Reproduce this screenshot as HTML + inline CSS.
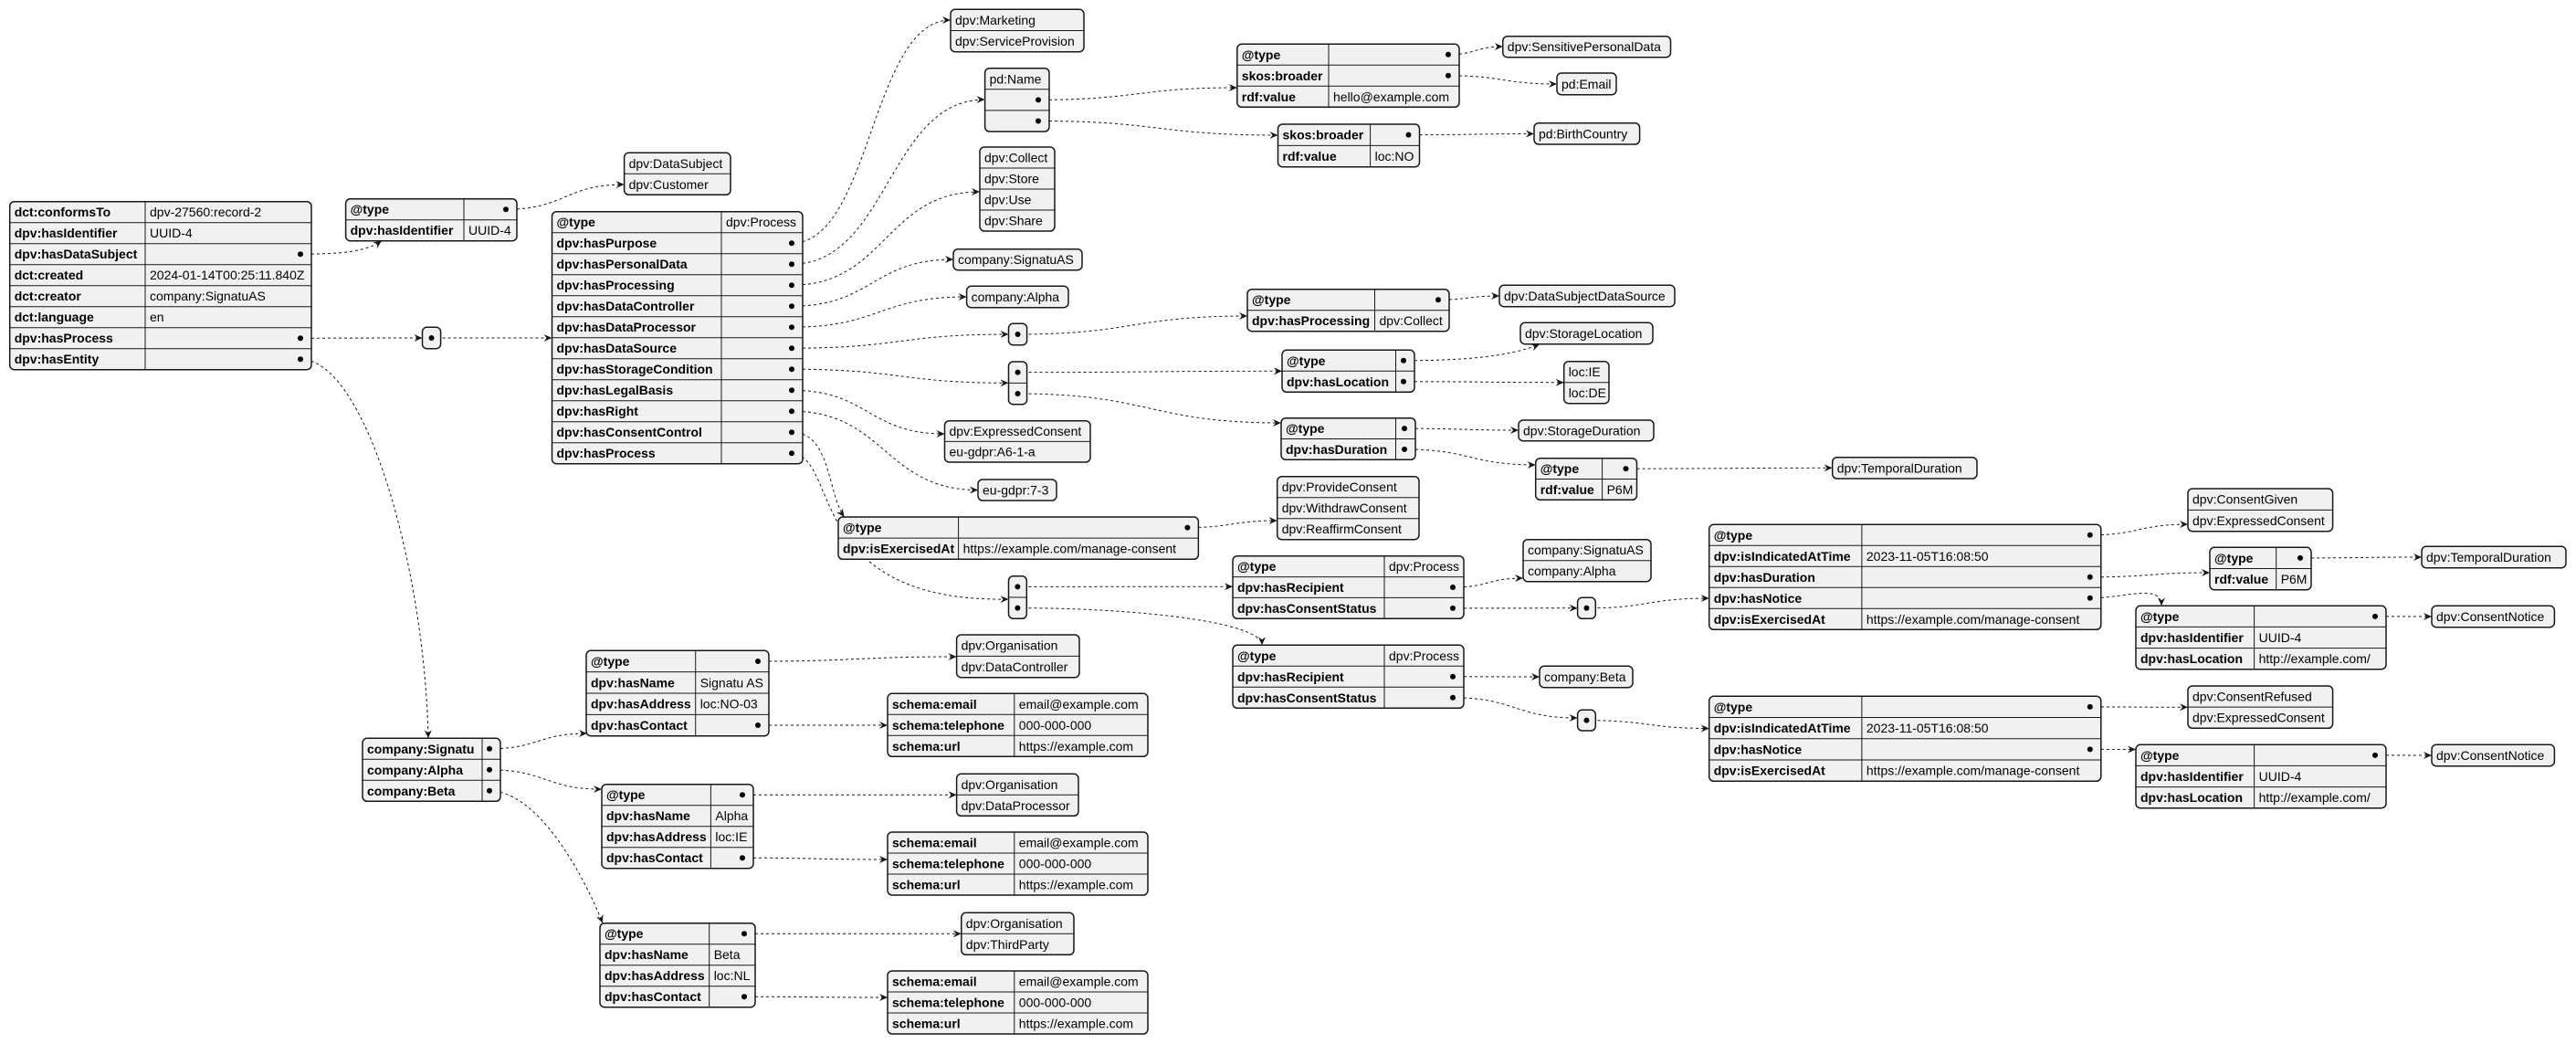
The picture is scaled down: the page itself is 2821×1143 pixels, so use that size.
<!DOCTYPE html>
<html><head><meta charset="utf-8">
<style>
html,body{margin:0;padding:0;background:#fff;}
svg{display:block;}
text{font-family:"Liberation Sans",sans-serif;font-size:14px;fill:#000;}
.k{font-weight:bold;}
</style></head>
<body>
<svg id="s" xmlns="http://www.w3.org/2000/svg" width="2821" height="1143" viewBox="0 0 2821 1143">
<defs>
<marker id="ar" markerUnits="userSpaceOnUse" markerWidth="10" markerHeight="9" refX="9" refY="4" orient="auto">
<path d="M0,0 L9,4 L0,8 L3,4 Z" fill="#181818"/>
</marker>
</defs>
<g id="lines"></g>
<g id="boxes"></g>
</svg>
<script>
const D='*';
const T={
T0:[10.7,341,220.7,404.7,159,[['dct:conformsTo','dpv-27560:record-2'],['dpv:hasIdentifier','UUID-4'],['dpv:hasDataSubject',D],['dct:created','2024-01-14T00:25:11.840Z'],['dct:creator','company:SignatuAS'],['dct:language','en'],['dpv:hasProcess',D],['dpv:hasEntity',D]]],
T1:[378.6,566,217.7,263.7,508,[['@type',D],['dpv:hasIdentifier','UUID-4']]],
LDS:[683.6,800,167.3,213.3,0,['dpv:DataSubject','dpv:Customer']],
A1:[462.5,482.6,358.3,381.7,0,[D]],
T2:[604.5,879,231.7,507.7,790,[['@type','dpv:Process'],['dpv:hasPurpose',D],['dpv:hasPersonalData',D],['dpv:hasProcessing',D],['dpv:hasDataController',D],['dpv:hasDataProcessor',D],['dpv:hasDataSource',D],['dpv:hasStorageCondition',D],['dpv:hasLegalBasis',D],['dpv:hasRight',D],['dpv:hasConsentControl',D],['dpv:hasProcess',D]]],
MK:[1041,1187,10.3,56.7,0,['dpv:Marketing','dpv:ServiceProvision']],
PN:[1078.6,1149,74.7,144,0,['pd:Name',D,D]],
EM:[1354.8,1598,48.3,117.3,1455,[['@type',D],['skos:broader',D],['rdf:value','hello@example.com']]],
SPD:[1645.8,1829.5,39.7,62.7,0,['dpv:SensitivePersonalData']],
PE:[1705,1770,80,103.7,0,['pd:Email']],
BC:[1399.5,1554.5,136,182.7,1500.6,[['skos:broader',D],['rdf:value','loc:NO']]],
PBC:[1680,1795.6,134.7,158,0,['pd:BirthCountry']],
COL:[1073,1155,161,253,0,['dpv:Collect','dpv:Store','dpv:Use','dpv:Share']],
SAS:[1044,1185,272.7,295.7,0,['company:SignatuAS']],
ALP:[1058.6,1170,313.3,336.7,0,['company:Alpha']],
A2:[1104.5,1124.6,354.3,377.7,0,[D]],
A3:[1104.5,1124.6,396,442.7,0,[D,D]],
EC:[1034.5,1194,460.7,506,0,['dpv:ExpressedConsent','eu-gdpr:A6-1-a']],
EU:[1071,1157,525,548,0,['eu-gdpr:7-3']],
DS:[1366,1587,316.7,362.7,1505.5,[['@type',D],['dpv:hasProcessing','dpv:Collect']]],
DSDS:[1642,1834,312.3,335.7,0,['dpv:DataSubjectDataSource']],
LOC:[1404,1549,383.3,429.3,1528.5,[['@type',D],['dpv:hasLocation',D]]],
SL:[1665,1810,353.3,376.7,0,['dpv:StorageLocation']],
LIE:[1712.7,1762,395.7,441.7,0,['loc:IE','loc:DE']],
DUR:[1403,1550,457.7,503.3,1528.5,[['@type',D],['dpv:hasDuration',D]]],
SD:[1663,1811,460,482.7,0,['dpv:StorageDuration']],
P6:[1681.7,1792.5,501.7,547.3,1754.6,[['@type',D],['rdf:value','P6M']]],
TD:[2006.7,2165,500.7,524,0,['dpv:TemporalDuration']],
PC:[1398.7,1554,521.7,590.7,0,['dpv:ProvideConsent','dpv:WithdrawConsent','dpv:ReaffirmConsent']],
MC:[918,1312.4,566,612.3,1049.6,[['@type',D],['dpv:isExercisedAt','https://example.com/manage-consent']]],
A4:[1104.5,1124.3,630.7,677.3,0,[D,D]],
P1:[1350,1603,608.7,677.3,1516,[['@type','dpv:Process'],['dpv:hasRecipient',D],['dpv:hasConsentStatus',D]]],
SA2:[1668,1808,590.7,636.7,0,['company:SignatuAS','company:Alpha']],
A5:[1727.6,1747.3,654.3,677.3,0,[D]],
P2:[1350,1603,706.3,775.3,1516,[['@type','dpv:Process'],['dpv:hasRecipient',D],['dpv:hasConsentStatus',D]]],
BETA:[1686,1788,729.3,752.7,0,['company:Beta']],
A6:[1727.6,1747.3,777.3,800,0,[D]],
C1:[1871.7,2300.8,574.3,689.3,2038.9,[['@type',D],['dpv:isIndicatedAtTime','2023-11-05T16:08:50'],['dpv:hasDuration',D],['dpv:hasNotice',D],['dpv:isExercisedAt','https://example.com/manage-consent']]],
CG:[2396,2554.6,535,581.7,0,['dpv:ConsentGiven','dpv:ExpressedConsent']],
P62:[2420,2531,599.3,645.7,2492.7,[['@type',D],['rdf:value','P6M']]],
TD2:[2652,2810,598.3,621.7,0,['dpv:TemporalDuration']],
N1:[2339,2613,663.3,732.7,2468.6,[['@type',D],['dpv:hasIdentifier','UUID-4'],['dpv:hasLocation','http://example.com/']]],
CN1:[2663,2797.4,663.3,686.7,0,['dpv:ConsentNotice']],
C2:[1871.7,2300.8,762.3,855.3,2038.9,[['@type',D],['dpv:isIndicatedAtTime','2023-11-05T16:08:50'],['dpv:hasNotice',D],['dpv:isExercisedAt','https://example.com/manage-consent']]],
CR:[2396,2554.6,751,797.3,0,['dpv:ConsentRefused','dpv:ExpressedConsent']],
N2:[2339,2613,815.3,884.7,2468.6,[['@type',D],['dpv:hasIdentifier','UUID-4'],['dpv:hasLocation','http://example.com/']]],
CN2:[2663,2797.4,815.3,838.7,0,['dpv:ConsentNotice']],
E:[397,548,808.3,877.3,528,[['company:Signatu',D],['company:Alpha',D],['company:Beta',D]]],
S:[642,842,712.3,805.7,761.7,[['@type',D],['dpv:hasName','Signatu AS'],['dpv:hasAddress','loc:NO-03'],['dpv:hasContact',D]]],
O1:[1047.6,1182,695,741.7,0,['dpv:Organisation','dpv:DataController']],
K1:[972,1257,759.3,828.3,1110.8,[['schema:email','email@example.com'],['schema:telephone','000-000-000'],['schema:url','https://example.com']]],
A:[659,825,858.7,950.7,778.4,[['@type',D],['dpv:hasName','Alpha'],['dpv:hasAddress','loc:IE'],['dpv:hasContact',D]]],
O2:[1047.6,1181,847.3,893.3,0,['dpv:Organisation','dpv:DataProcessor']],
K2:[972,1257,911,980,1110.8,[['schema:email','email@example.com'],['schema:telephone','000-000-000'],['schema:url','https://example.com']]],
B:[657,827,1010.7,1102.7,776.7,[['@type',D],['dpv:hasName','Beta'],['dpv:hasAddress','loc:NL'],['dpv:hasContact',D]]],
O3:[1052.8,1176,999.3,1045.3,0,['dpv:Organisation','dpv:ThirdParty']],
K3:[972,1257,1063,1132,1110.8,[['schema:email','email@example.com'],['schema:telephone','000-000-000'],['schema:url','https://example.com']]]
};
const NS='http://www.w3.org/2000/svg';
function el(n,a,p,txt){const e=document.createElementNS(NS,n);for(const k in a)e.setAttribute(k,a[k]);if(txt!==undefined)e.textContent=txt;p.appendChild(e);return e;}
const boxes=document.getElementById('boxes'),lines=document.getElementById('lines');
function rowY(t,i){const h=(t[3]-t[2])/t[5].length;return t[2]+h*(i+0.5);}
function dotX(t){return (t[1]-t[0])<30?(t[0]+t[1])/2:t[1]-12;}
for(const id in T){
 const t=T[id];const [x0,x1,y0,y1,sp,rows]=t;const g=el('g',{},boxes);
 el('rect',{x:x0,y:y0,width:x1-x0,height:y1-y0,rx:5,ry:5,fill:'#F1F1F1',stroke:'#181818','stroke-width':1.5},g);
 const h=(y1-y0)/rows.length;
 for(let i=1;i<rows.length;i++)el('line',{x1:x0,x2:x1,y1:y0+h*i,y2:y0+h*i,stroke:'#181818','stroke-width':1},g);
 if(sp)el('line',{x1:sp,x2:sp,y1:y0,y2:y1,stroke:'#181818','stroke-width':1},g);
 rows.forEach((r,i)=>{
  const cy=y0+h*(i+0.5);
  if(Array.isArray(r)){
   el('text',{x:x0+5,y:cy+5,class:'k'},g,r[0]);
   if(r[1]===D)el('circle',{cx:dotX(t),cy:cy,r:3,fill:'#000'},g);
   else el('text',{x:sp+5,y:cy+5},g,r[1]);
  }else{
   if(r===D)el('circle',{cx:dotX(t),cy:cy,r:3,fill:'#000'},g);
   else el('text',{x:x0+5,y:cy+5},g,r);
  }
 });
}
const C=[
['T0',2,418,263.7,'B'],['T0',6,462.5,370,'L'],['T0',7,469,808.3,'T',[400,393],[465,620]],
['T1',0,683.6,202,'L'],['A1',0,604.5,370,'L'],
['T2',1,1041,22,'L'],['T2',2,1078.6,109,'L'],['T2',3,1073,210,'L'],['T2',4,1044,284,'L'],['T2',5,1058.6,325,'L'],
['T2',6,1104.5,366,'L'],['T2',7,1104.5,419.3,'L'],['T2',8,1034.5,475,'L'],['T2',9,1071,536.5,'L'],
['T2',10,924.6,566,'T',[910,473],[906,540]],['T2',11,1104.5,656,'L',[920,500],[880,660]],
['PN',1,1354.8,96,'L'],['PN',2,1399.5,148,'L'],
['EM',0,1645.8,51,'L'],['EM',1,1705,92,'L'],['BC',0,1680,146.5,'L'],
['A2',0,1366,346,'L'],['DS',0,1642,324,'L'],
['A3',0,1404,406.3,'L'],['A3',1,1403,463,'L'],
['LOC',0,1686,377,'B'],['LOC',1,1712.7,418.7,'L'],
['DUR',0,1663,471,'L'],['DUR',1,1681.7,509,'L'],['P6',0,2006.7,512.3,'L'],
['MC',0,1398.7,570,'L'],
['A4',0,1350,642.2,'L'],['A4',1,1382,706.3,'T'],
['P1',1,1668,633,'L'],['P1',2,1727.6,665.8,'L'],['A5',0,1871.7,655,'L'],
['P2',1,1686,741,'L'],['P2',2,1727.6,786,'L'],['A6',0,1871.7,797.5,'L'],
['C1',0,2396,574,'L'],['C1',2,2420,627,'L'],['C1',3,2367,663.3,'T'],
['P62',0,2652,610,'L'],['N1',0,2663,675,'L'],
['C2',0,2396,774.3,'L'],['C2',2,2339,820.5,'L'],['N2',0,2663,827,'L'],
['E',0,643,803,'L'],['E',1,659,864,'L'],['E',2,660,1010.7,'T',[590,866],[640,960]],
['S',0,1047.6,719,'L'],['S',3,972,794,'L'],
['A',0,1047.6,870.3,'L'],['A',3,972,941,'L'],
['B',0,1052.8,1022.3,'L'],['B',3,972,1092,'L']
];
C.forEach(c=>{
 const t=T[c[0]];const sx=dotX(t),sy=rowY(t,c[1]);const ex=c[2],ey=c[3],m=c[4];
 let c1,c2;
 if(c[5]){c1=c[5];c2=c[6];}
 else if(m==='L'){const dx=ex-sx;c1=[sx+dx*0.5,sy];c2=[ex-dx*0.5,ey];}
 else if(m==='T'){c1=[sx+Math.max(30,(ex-sx)*0.5),sy];c2=[ex,ey-Math.max(25,(ey-sy)*0.5)];}
 else {c1=[sx+(ex-sx)*0.5,sy];c2=[ex-(ex-sx)*0.2,ey+12];}
 el('path',{d:`M${sx},${sy} C${c1[0]},${c1[1]} ${c2[0]},${c2[1]} ${ex},${ey}`,fill:'none',stroke:'#181818','stroke-width':1,'stroke-dasharray':'3,3','marker-end':'url(#ar)'},lines);
});
</script>
</body></html>
